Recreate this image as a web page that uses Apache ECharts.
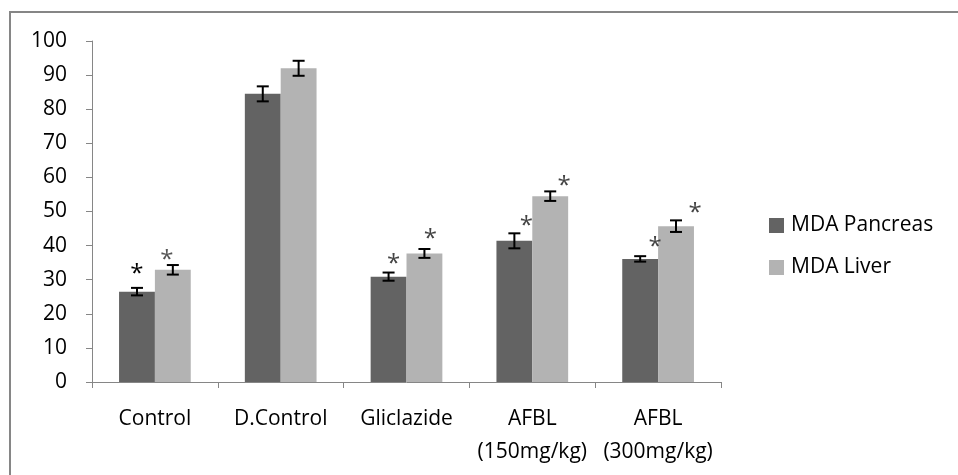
<!DOCTYPE html>
<html>
<head>
<meta charset="utf-8">
<script src="https://cdn.jsdelivr.net/npm/echarts@6/dist/echarts.min.js"></script>
<style>
  html, body { margin: 0; padding: 0; background: #fff; }
  #chart { width: 958px; height: 475px; }
</style>
</head>
<body>
<div id="chart"></div>
<script>
const categories = ['Control', 'D.Control', 'Gliclazide', 'AFBL\n(150mg/kg)', 'AFBL\n(300mg/kg)'];
const pancreas = [26.5, 84.5, 30.9, 41.4, 36.1];
const pancreasErr = [1.1, 2.2, 1.2, 2.2, 0.8];
const liver = [32.9, 92.0, 37.7, 54.5, 45.7];
const liverErr = [1.4, 2.2, 1.3, 1.4, 1.7];
// significance marks (true = '*')
const pancreasStar = [true, false, true, true, true];
const liverStar = [true, false, true, true, true];
const yTicks = [0, 10, 20, 30, 40, 50, 60, 70, 80, 90, 100];

const FONT = '"Open Sans", "Noto Sans", sans-serif';
const GAP = 0.43;
// where each asterisk sits relative to the error-bar cap (px)
const starShift = {
  pancreas: [[0, -14], null, [5, -8], [12, -7], [15, -9]],
  liver: [[-6, -5], null, [6, -10], [14, -5], [19, -7]]
};

const chart = echarts.init(document.getElementById('chart'));

function errSeries(name, values, errs, stars, side, shifts, starColors) {
  return {
    type: 'custom',
    name: name + ' err',
    z: 5,
    silent: true,
    data: values.map((v, i) => [i, v, errs[i]]),
    renderItem: function (params, api) {
      const i = api.value(0);
      const v = api.value(1);
      const e = api.value(2);
      const band = api.size([1, 0])[0];
      const bw = band * (1 - GAP) / 2;
      const cx = api.coord([i, v])[0] + side * bw / 2;
      const top = api.coord([i, v + e])[1];
      const bot = api.coord([i, v - e])[1];
      const cap = 6;
      const st = { stroke: '#000', lineWidth: 2 };
      const children = [
        { type: 'line', shape: { x1: cx, y1: top, x2: cx, y2: bot }, style: st },
        { type: 'line', shape: { x1: cx - cap, y1: top, x2: cx + cap, y2: top }, style: st },
        { type: 'line', shape: { x1: cx - cap, y1: bot, x2: cx + cap, y2: bot }, style: st }
      ];
      if (stars[i] && shifts[i]) {
        children.push({
          type: 'text',
          style: {
            text: '*', x: cx + shifts[i][0], y: top + shifts[i][1],
            align: 'center', verticalAlign: 'middle',
            fontSize: 24, fontFamily: FONT,
            fill: starColors[i]
          }
        });
      }
      return { type: 'group', children: children };
    }
  };
}

const option = {
  animation: false,
  backgroundColor: '#fff',
  graphic: [{
    type: 'rect',
    shape: { x: 10, y: 12, width: 1000, height: 500 },
    style: { fill: 'none', stroke: '#868686', lineWidth: 2 },
    silent: true
  }],
  legend: {
    orient: 'vertical',
    left: 764,
    top: 210,
    itemWidth: 15,
    itemHeight: 15,
    itemGap: 21,
    icon: 'rect',
    data: ['MDA Pancreas', 'MDA Liver'],
    textStyle: { fontFamily: FONT, fontSize: 21, color: '#000', padding: [0, 0, 0, 2] }
  },
  grid: { left: 92, right: 237, top: 41, bottom: 93, containLabel: false },
  xAxis: {
    type: 'category',
    data: categories,
    axisLine: { lineStyle: { color: '#868686', width: 1 } },
    axisTick: { show: true, length: 6, lineStyle: { color: '#868686' } },
    axisLabel: {
      fontFamily: FONT, fontSize: 21, color: '#000',
      margin: 21, lineHeight: 33, interval: 0
    }
  },
  yAxis: {
    type: 'value',
    min: 0,
    max: 100,
    interval: 10,
    splitLine: { show: false },
    axisLine: { show: true, lineStyle: { color: '#868686', width: 1 } },
    axisTick: { show: true, length: 6, lineStyle: { color: '#868686' } },
    axisLabel: {
      fontFamily: FONT, fontSize: 21, color: '#000', margin: 25,
      formatter: function (v) { return yTicks.indexOf(v) >= 0 ? String(v) : ''; }
    }
  },
  series: [
    {
      name: 'MDA Pancreas',
      type: 'bar',
      data: pancreas,
      barGap: '0%',
      barCategoryGap: (GAP * 100) + '%',
      itemStyle: { color: '#636363' }
    },
    {
      name: 'MDA Liver',
      type: 'bar',
      data: liver,
      barGap: '0%',
      barCategoryGap: (GAP * 100) + '%',
      itemStyle: { color: '#b3b3b3' }
    },
    errSeries('MDA Pancreas', pancreas, pancreasErr, pancreasStar, -1, starShift.pancreas,
      ['#000', '#444', '#444', '#444', '#444']),
    errSeries('MDA Liver', liver, liverErr, liverStar, 1, starShift.liver,
      ['#555', '#444', '#444', '#444', '#444'])
  ]
};

chart.setOption(option);
</script>
</body>
</html>
